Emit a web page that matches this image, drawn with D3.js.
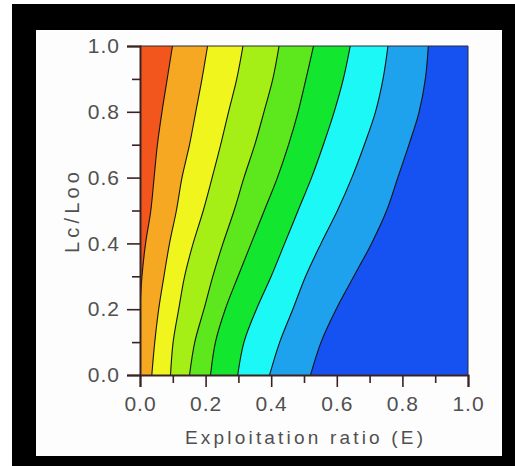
<!DOCTYPE html>
<html>
<head>
<meta charset="utf-8">
<script src="https://cdn.jsdelivr.net/npm/d3@7"></script>
<style>
  html, body { margin: 0; padding: 0; background: #ffffff; }
  svg { display: block; }
  .tick text { font-family: "Liberation Sans", "DejaVu Sans", sans-serif; }
</style>
</head>
<body>
<svg id="chart" width="515" height="466"></svg>
<script>
// Lc/Loo levels at which each isoline position is recorded
const lcLevels = [0, 0.1, 0.2, 0.3, 0.4, 0.5, 0.6, 0.7, 0.8, 0.9, 1.0];

// Exploitation ratio (E) of each isoline at the Lc/Loo levels above (left to right)
const isoline1 = [0, 0, 0, 0.006, 0.017, 0.033, 0.043, 0.053, 0.067, 0.083, 0.099];
const isoline2 = [0.036, 0.045, 0.057, 0.073, 0.090, 0.111, 0.128, 0.151, 0.170, 0.189, 0.206];
const isoline3 = [0.093, 0.101, 0.118, 0.136, 0.162, 0.193, 0.220, 0.246, 0.270, 0.295, 0.314];
const isoline4 = [0.151, 0.167, 0.195, 0.222, 0.253, 0.287, 0.317, 0.350, 0.378, 0.405, 0.424];
const isoline5 = [0.215, 0.230, 0.260, 0.299, 0.339, 0.379, 0.419, 0.453, 0.482, 0.506, 0.529];
const isoline6 = [0.298, 0.317, 0.355, 0.400, 0.441, 0.482, 0.523, 0.559, 0.592, 0.620, 0.641];
const isoline7 = [0.395, 0.426, 0.466, 0.505, 0.552, 0.602, 0.646, 0.684, 0.718, 0.741, 0.756];
const isoline8 = [0.520, 0.552, 0.598, 0.652, 0.706, 0.752, 0.786, 0.820, 0.851, 0.870, 0.879];

// Band colours, from the band left of isoline1 to the band right of isoline8
const bandColors = ["#f2561d", "#f7a823", "#f0f51e", "#a5ef17", "#5ce81c", "#12e62e", "#1cf8f5", "#1ea2ee", "#1652f2"];

// Axis ticks
const majorTicks = [0, 0.2, 0.4, 0.6, 0.8, 1.0];
const minorTicks = [0.1, 0.3, 0.5, 0.7, 0.9];

const isolines = [isoline1, isoline2, isoline3, isoline4, isoline5, isoline6, isoline7, isoline8];

const svg = d3.select("#chart");

// outer black frame with white panel
svg.append("rect").attr("x", 12).attr("y", 4).attr("width", 503).attr("height", 462).attr("fill", "#000");
svg.append("rect").attr("x", 36).attr("y", 30).attr("width", 466).attr("height", 426).attr("fill", "#fdfdfd");

const plot = { left: 140, right: 468, top: 46, bottom: 375 };
const x = d3.scaleLinear().domain([0, 1]).range([plot.left, plot.right]);
const y = d3.scaleLinear().domain([0, 1]).range([plot.bottom, plot.top]);

svg.append("clipPath").attr("id", "plotClip")
  .append("rect")
  .attr("x", plot.left).attr("y", plot.top)
  .attr("width", plot.right - plot.left).attr("height", plot.bottom - plot.top);

const g = svg.append("g").attr("clip-path", "url(#plotClip)");

// background: band to the right of the last isoline
g.append("rect")
  .attr("x", x(0)).attr("y", y(1))
  .attr("width", x(1) - x(0)).attr("height", y(0) - y(1))
  .attr("fill", bandColors[bandColors.length - 1]);

const curve = d3.curveCatmullRom.alpha(0.5);

// paint the region left of each isoline, from right to left
const area = d3.area()
  .curve(curve)
  .y((d, i) => y(lcLevels[i]))
  .x0(() => x(0))
  .x1(d => x(d));

for (let k = isolines.length - 1; k >= 0; k--) {
  g.append("path")
    .attr("d", area(isolines[k]))
    .attr("fill", bandColors[k]);
}

// isoline strokes
const line = d3.line()
  .curve(curve)
  .y((d, i) => y(lcLevels[i]))
  .x(d => x(d));

g.selectAll("path.iso")
  .data(isolines)
  .join("path")
  .attr("class", "iso")
  .attr("d", d => line(d))
  .attr("fill", "none")
  .attr("stroke", "#141414")
  .attr("stroke-width", 1.1);

// thin border on top and right
svg.append("path")
  .attr("d", `M${x(0)},${y(1)}H${x(1)}V${y(0)}`)
  .attr("fill", "none")
  .attr("stroke", "#2a2a3a")
  .attr("stroke-width", 1);

const axisColor = "#3a2222";
const labelFont = 21;

// y axis
const yMajor = d3.axisLeft(y).tickValues(majorTicks).tickSize(13).tickPadding(7).tickFormat(d3.format(".1f"));
const yMinor = d3.axisLeft(y).tickValues(minorTicks).tickSize(8).tickFormat("");
svg.append("g").attr("transform", `translate(${plot.left},0)`).call(yMajor);
svg.append("g").attr("transform", `translate(${plot.left},0)`).call(yMinor).select(".domain").remove();

// x axis
const xMajor = d3.axisBottom(x).tickValues(majorTicks).tickSize(12).tickPadding(9).tickFormat(d3.format(".1f"));
const xMinor = d3.axisBottom(x).tickValues(minorTicks).tickSize(8).tickFormat("");
svg.append("g").attr("transform", `translate(0,${plot.bottom})`).call(xMajor);
svg.append("g").attr("transform", `translate(0,${plot.bottom})`).call(xMinor).select(".domain").remove();

svg.selectAll(".domain").attr("stroke", axisColor).attr("stroke-width", 2);
svg.selectAll(".tick line").attr("stroke", axisColor).attr("stroke-width", 1.6);
svg.selectAll(".tick text")
  .attr("font-size", labelFont)
  .attr("fill", "#505050")
  .attr("letter-spacing", "1px");

// axis titles
svg.append("text")
  .attr("x", (plot.left + plot.right) / 2)
  .attr("y", 444)
  .attr("text-anchor", "middle")
  .attr("font-family", "Liberation Sans, DejaVu Sans, sans-serif")
  .attr("font-size", 19)
  .attr("fill", "#505050")
  .attr("textLength", 238)
  .attr("lengthAdjust", "spacing")
  .text("Exploitation ratio (E)");

svg.append("text")
  .attr("transform", `translate(79,${(plot.top + plot.bottom) / 2 + 2}) rotate(-90)`)
  .attr("text-anchor", "middle")
  .attr("font-family", "Liberation Sans, DejaVu Sans, sans-serif")
  .attr("font-size", 20)
  .attr("fill", "#505050")
  .attr("textLength", 81)
  .attr("lengthAdjust", "spacing")
  .text("Lc/Loo");
</script>
</body>
</html>
